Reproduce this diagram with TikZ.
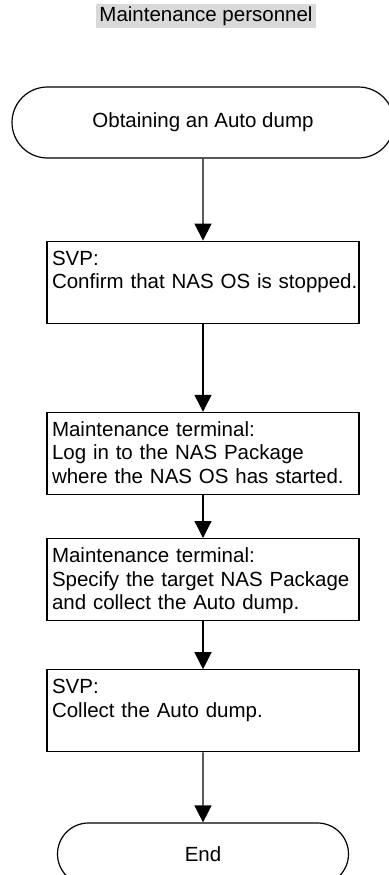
\documentclass[tikz,border=0pt]{standalone}
\usepackage{fontspec}
\setmainfont{Liberation Sans}
\usetikzlibrary{positioning,shapes.misc,arrows.meta}

\newcommand{\flowfont}{\fontsize{20.5}{23.5}\selectfont}

\begin{document}
\begin{tikzpicture}[x=1pt, y=-1pt, line width=1.2pt, >={Triangle[length=17pt,width=17pt]}]
  % Define styles
  \tikzstyle{terminal}=[rounded rectangle, draw=black, minimum height=71pt, inner sep=0pt, font=\flowfont]
  \tikzstyle{procbox}=[rectangle, draw=black, text width=312pt, align=left, inner xsep=0pt, inner ysep=7pt, text height=17pt, text depth=51pt, font=\flowfont, execute at begin node={\leftskip=5pt\relax}]
  \tikzstyle{flow}=[->]

  \useasboundingbox (0,0) rectangle (388,875);

  % Actor
  \node[fill=gray!30, inner xsep=3pt, inner ysep=1pt, text height=17pt, text depth=5pt, font=\flowfont] (actor) at (206,16) {Maintenance personnel};

  % Steps
  \node[terminal, minimum width=382pt] (start) at (203,122.5) {Obtaining an Auto dump};
  \node[procbox, below=82pt of start] (confirm) {SVP:\\Confirm that NAS OS is stopped.};
  \node[procbox, below=88pt of confirm] (login) {Maintenance terminal:\\Log in to the NAS Package\\where the NAS OS has started.};
  \node[procbox, below=43pt of login] (specify) {Maintenance terminal:\\Specify the target NAS Package\\and collect the Auto dump.};
  \node[procbox, below=48pt of specify] (collect) {SVP:\\Collect the Auto dump.};
  \node[terminal, minimum width=291pt, minimum height=62pt, below=70pt of collect] (end) {End};

  % Flow
  \draw[flow] (start) -- (confirm);
  \draw[flow] (confirm) -- (login);
  \draw[flow] (login) -- (specify);
  \draw[flow] (specify) -- (collect);
  \draw[flow] (collect) -- (end);
\end{tikzpicture}
\end{document}
